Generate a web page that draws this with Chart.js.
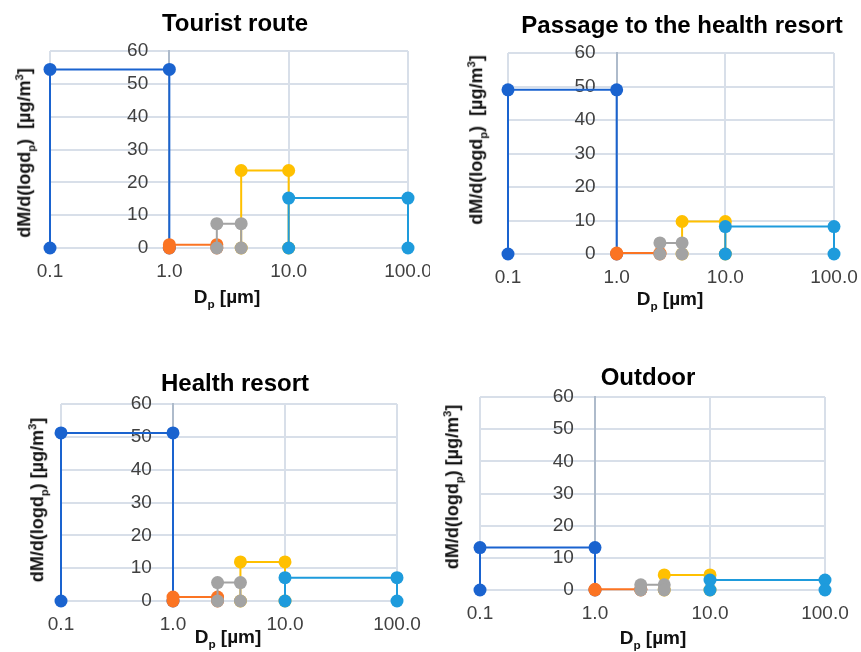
<!DOCTYPE html>
<html>
<head>
<meta charset="utf-8">
<script src="https://cdn.jsdelivr.net/npm/chart.js@4/dist/chart.umd.min.js"></script>
<style>
  body { margin: 0; background: #fff; }
  #wrap { position: relative; width: 861px; height: 652px; overflow: hidden; font-family: "Liberation Sans", Arial, sans-serif; }
  canvas { position: absolute; }
  .ttl { position: absolute; transform: translate(-50%, -50%); font-weight: bold; font-size: 24px; color: #000; white-space: nowrap; }
  .xt { position: absolute; transform: translate(-50%, -50%); font-weight: bold; font-size: 19px; color: #111; white-space: nowrap; }
  .yt { position: absolute; transform: translate(-50%, -50%) rotate(-90deg); font-weight: bold; font-size: 18px; color: #111; white-space: pre; }
  sub, sup { font-size: 62%; }
</style>
</head>
<body>
<div id="wrap"></div>
<script>
// bin edges of the size classes (µm) and x tick values
var binEdges = [0.1, 1.0, 2.5, 4.0, 10, 100];
var xTicks = [0.1, 1, 10, 100];
var xTickLabels = ['0.1', '1.0', '10.0', '100.0'];

// dM/d(logdp) per size class, µg/m3
var touristRoute = [54.4, 1.0, 7.4, 23.6, 15.2];
var passageToResort = [49.0, 0.3, 3.3, 9.7, 8.2];
var healthResort = [51.2, 1.2, 5.6, 11.9, 7.1];
var outdoor = [13.2, 0.2, 1.6, 4.7, 3.1];

var seriesColors = ['#1a63cf', '#fb7423', '#a3a3a3', '#ffc000', '#1e9bdc'];
// draw order: lower number is on top
var seriesOrder = [5, 4, 2, 3, 1];

var panels = [
    { title: 'Tourist route', values: touristRoute, box: [0, 0, 430, 320], area: [50, 51, 408, 248],
      titleAt: [235, 23], xTitleAt: [227, 298], yTitleAt: [25, 153], yTitle: 'dM/d(logd<sub>p</sub>)  [µg/m<sup>3</sup>]' },
    { title: 'Passage to the health resort', values: passageToResort, box: [430, 0, 431, 320], area: [78, 53, 404, 254],
      titleAt: [682, 25], xTitleAt: [670, 300], yTitleAt: [477, 140], yTitle: 'dM/d(logd<sub>p</sub>)  [µg/m<sup>3</sup>]' },
    { title: 'Health resort', values: healthResort, box: [0, 320, 430, 332], area: [61, 84, 397, 281],
      titleAt: [235, 383], xTitleAt: [228, 638], yTitleAt: [38, 500], yTitle: 'dM/d(logd<sub>p</sub>) [µg/m<sup>3</sup>]' },
    { title: 'Outdoor', values: outdoor, box: [430, 320, 431, 332], area: [50, 77, 395, 270],
      titleAt: [648, 377], xTitleAt: [653, 639], yTitleAt: [453, 487], yTitle: 'dM/d(logd<sub>p</sub>) [µg/m<sup>3</sup>]' }
];

var wrap = document.getElementById('wrap');
var X_AXIS_H = 30;

function addText(cls, html, at) {
    var d = document.createElement('div');
    d.className = cls;
    d.innerHTML = html;
    d.style.left = at[0] + 'px';
    d.style.top = at[1] + 'px';
    wrap.appendChild(d);
}

panels.forEach(function (p) {
    var cv = document.createElement('canvas');
    cv.width = p.box[2];
    cv.height = p.box[3];
    cv.style.left = p.box[0] + 'px';
    cv.style.top = p.box[1] + 'px';
    cv.style.width = p.box[2] + 'px';
    cv.style.height = p.box[3] + 'px';
    wrap.appendChild(cv);

    var datasets = [];
    for (var i = 0; i < p.values.length; i++) {
        var x1 = binEdges[i], x2 = binEdges[i + 1], h = p.values[i];
        datasets.push({
            data: [{ x: x1, y: 0 }, { x: x1, y: h }, { x: x2, y: h }, { x: x2, y: 0 }],
            showLine: true,
            borderColor: seriesColors[i],
            backgroundColor: seriesColors[i],
            pointBackgroundColor: seriesColors[i],
            pointBorderWidth: 0,
            pointRadius: 6.5,
            borderWidth: 2,
            order: seriesOrder[i],
            clip: false
        });
    }

    new Chart(cv, {
        type: 'scatter',
        data: { datasets: datasets },
        options: {
            responsive: false,
            animation: false,
            events: [],
            layout: {
                padding: {
                    left: p.area[0],
                    top: p.area[1],
                    right: p.box[2] - p.area[2],
                    bottom: p.box[3] - p.area[3] - X_AXIS_H
                }
            },
            plugins: { legend: { display: false }, tooltip: { enabled: false } },
            scales: {
                x: {
                    type: 'logarithmic',
                    min: 0.1,
                    max: 100,
                    afterBuildTicks: function (s) {
                        s.ticks = xTicks.map(function (v) { return { value: v }; });
                    },
                    afterFit: function (s) {
                        s.height = X_AXIS_H;
                        s.paddingLeft = 0;
                        s.paddingRight = 0;
                    },
                    ticks: {
                        autoSkip: false,
                        maxRotation: 0,
                        padding: 12,
                        color: '#404040',
                        font: { family: 'Liberation Sans', size: 19 },
                        callback: function (v) {
                            var k = xTicks.indexOf(v);
                            return k >= 0 ? xTickLabels[k] : '';
                        }
                    },
                    grid: { color: '#d8dfe9', lineWidth: 2, drawTicks: false },
                    border: { color: '#d8dfe9', width: 2 }
                },
                y: {
                    position: { x: 1 },
                    min: 0,
                    max: 60,
                    afterFit: function (s) { s.width = 0; },
                    ticks: {
                        stepSize: 10,
                        color: '#404040',
                        font: { family: 'Liberation Sans', size: 19 },
                        callback: function (v) { return v + '    '; }
                    },
                    grid: { color: '#d8dfe9', lineWidth: 2, drawTicks: false },
                    border: { color: '#aebbcb', width: 2 }
                }
            }
        }
    });

    addText('ttl', p.title, p.titleAt);
    addText('xt', 'D<sub>p</sub> [µm]', p.xTitleAt);
    addText('yt', p.yTitle, p.yTitleAt);
});
</script>
</body>
</html>
